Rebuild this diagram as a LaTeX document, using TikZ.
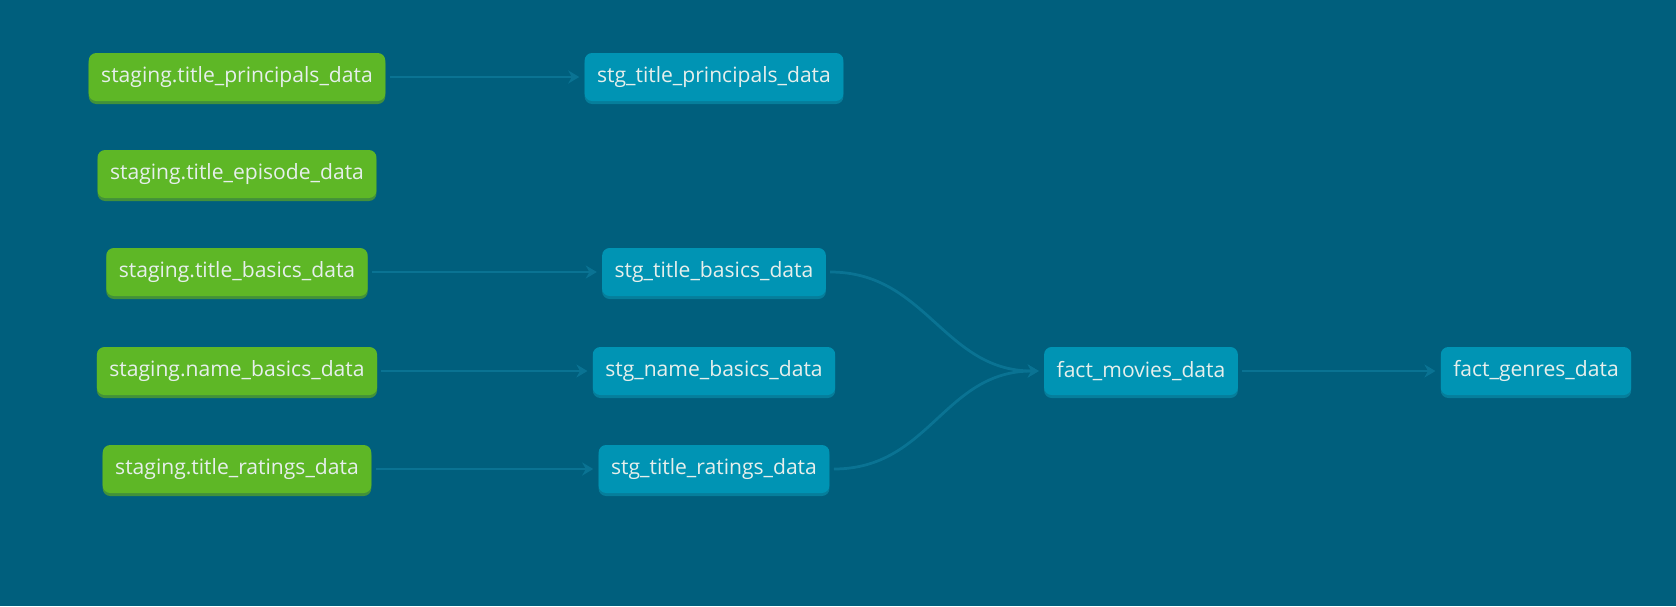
\documentclass[tikz,border=0pt]{standalone}
\usepackage{fontspec}
\setmainfont{Open Sans}
\usetikzlibrary{arrows.meta,shadows}
\definecolor{bgblue}{HTML}{005F7D}
\definecolor{srcgreen}{HTML}{5EB726}
\definecolor{srcshade}{HTML}{42913A}
\definecolor{mdlblue}{HTML}{0094B4}
\definecolor{mdlshade}{HTML}{067E9B}
\definecolor{edgeblue}{HTML}{0A7393}
\definecolor{labelwhite}{HTML}{E6EFEC}
\begin{document}
\begin{tikzpicture}[x=0.02cm,y=-0.02cm,
    box/.style={font=\fontsize{12}{14}\selectfont, text=labelwhite,
      rounded corners=0.15cm, minimum height=0.96cm, inner xsep=0.25cm, inner ysep=0pt},
    source/.style={box, fill=srcgreen, general shadow={fill=srcshade, shadow yshift=-0.06cm}},
    model/.style={box, fill=mdlblue, general shadow={fill=mdlshade, shadow yshift=-0.06cm}}]
      \fill[bgblue] (0,0) rectangle (1676,606);
      \useasboundingbox (0,0) rectangle (1676,606);
      \draw
        (237,77) node[source] (p){staging.title\_principals\_data}
        (237,174) node[source] (e){staging.title\_episode\_data}
        (237,272) node[source] (b){staging.title\_basics\_data}
        (237,371) node[source] (n){staging.name\_basics\_data}
        (237,469) node[source] (r){staging.title\_ratings\_data}
        (714,77) node[model] (sp){stg\_title\_principals\_data}
        (714,272) node[model] (sb){stg\_title\_basics\_data}
        (714,371) node[model] (sn){stg\_name\_basics\_data}
        (714,469) node[model] (sr){stg\_title\_ratings\_data}
        (1141,371) node[model] (fm){fact\_movies\_data}
        (1536,371) node[model] (fg){fact\_genres\_data};
      \begin{scope}[draw=edgeblue, line width=0.055cm, -{Stealth[length=0.22cm,width=0.26cm]},
          shorten <=0.08cm, shorten >=0.1cm]
        \draw (p) to (sp);
        \draw (b) to (sb);
        \draw (n) to (sn);
        \draw (r) to (sr);
        \draw (sb.east) .. controls +(100,0) and +(-100,0) .. (fm.west);
        \draw (sr.east) .. controls +(100,0) and +(-100,0) .. (fm.west);
        \draw (fm) to (fg);
      \end{scope}
    \end{tikzpicture}
\end{document}
